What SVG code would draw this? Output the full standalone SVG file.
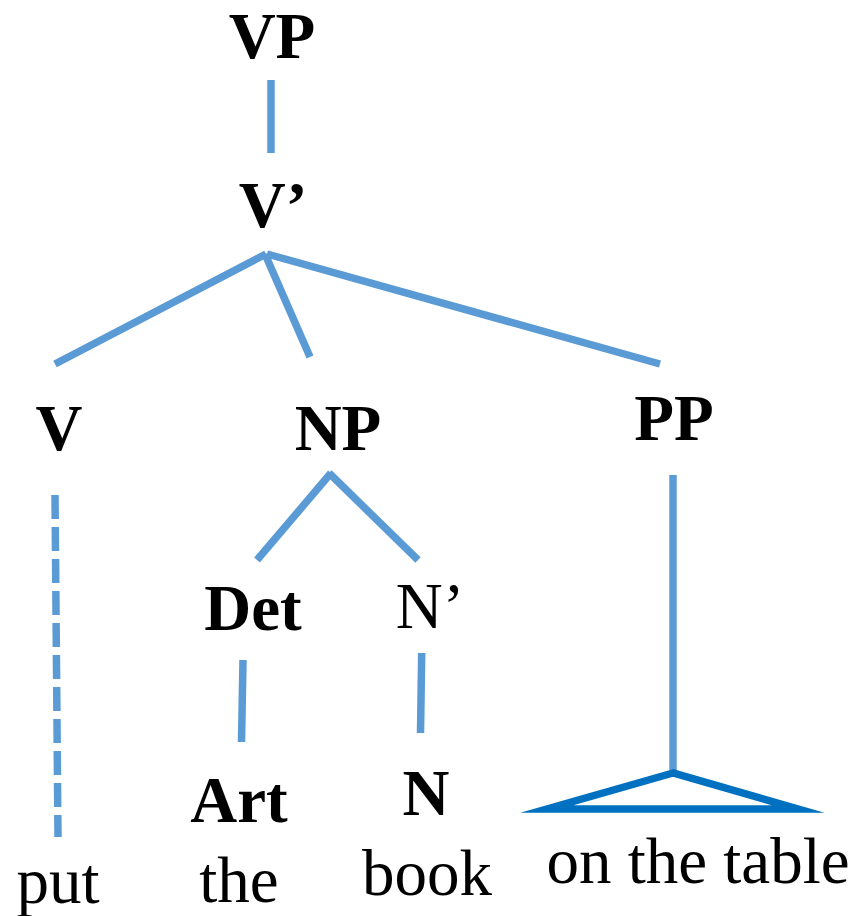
<svg xmlns="http://www.w3.org/2000/svg" width="859" height="916" viewBox="0 0 859 916">
  <style>
    .cat { font-family: "Liberation Serif", "Times New Roman", serif; font-size: 65px; font-weight: bold; fill: #000; text-anchor: middle; }
    .reg { font-family: "Liberation Serif", "Times New Roman", serif; font-size: 65px; font-weight: normal; fill: #000; text-anchor: middle; }
    .edge { stroke: #5B9BD5; stroke-width: 7.5; fill: none; stroke-linecap: butt; }
    .dashed { stroke-dasharray: 24 8; }
    .tri { stroke: #0070C0; stroke-width: 7.5; fill: none; stroke-linejoin: miter; stroke-miterlimit: 10; }
  </style>
  <rect width="859" height="916" fill="#fff"/>

  <!-- tree branches -->
  <g id="connectors">
    <line class="edge" x1="271" y1="80" x2="271" y2="153"/>
    <line class="edge" x1="55" y1="364" x2="266" y2="254"/>
    <line class="edge" x1="265" y1="254" x2="310" y2="357"/>
    <line class="edge" x1="267" y1="254" x2="660" y2="364"/>
    <line class="edge dashed" x1="55" y1="495" x2="58" y2="837"/>
    <line class="edge" x1="257" y1="560" x2="331" y2="473"/>
    <line class="edge" x1="329" y1="473" x2="418" y2="560"/>
    <line class="edge" x1="243" y1="660" x2="241.5" y2="742"/>
    <line class="edge" x1="421.7" y1="653" x2="420.5" y2="733"/>
    <line class="edge" x1="673" y1="475" x2="673" y2="772"/>
    <polygon class="tri" points="673,773 547,809 798,809"/>
  </g>

  <g id="node-vp"><text class="cat" x="272" y="58">VP</text></g>
  <g id="node-vbar"><text class="cat" x="273" y="227">V’</text></g>
  <g id="node-v"><text class="cat" x="59" y="450">V</text></g>
  <g id="node-np"><text class="cat" x="338" y="450">NP</text></g>
  <g id="node-pp"><text class="cat" x="674" y="440">PP</text></g>
  <g id="node-det"><text class="cat" x="253" y="630">Det</text></g>
  <g id="node-nbar"><text class="reg" x="430" y="628">N’</text></g>
  <g id="node-art"><text class="cat" x="239" y="822">Art</text></g>
  <g id="node-n"><text class="cat" x="426" y="815">N</text></g>
  <g id="word-put"><text class="reg" x="58" y="903">put</text></g>
  <g id="word-the"><text class="reg" x="239" y="902">the</text></g>
  <g id="word-book"><text class="reg" x="427" y="895">book</text></g>
  <g id="word-on-the-table"><text class="reg" x="698" y="883">on the table</text></g>
</svg>
